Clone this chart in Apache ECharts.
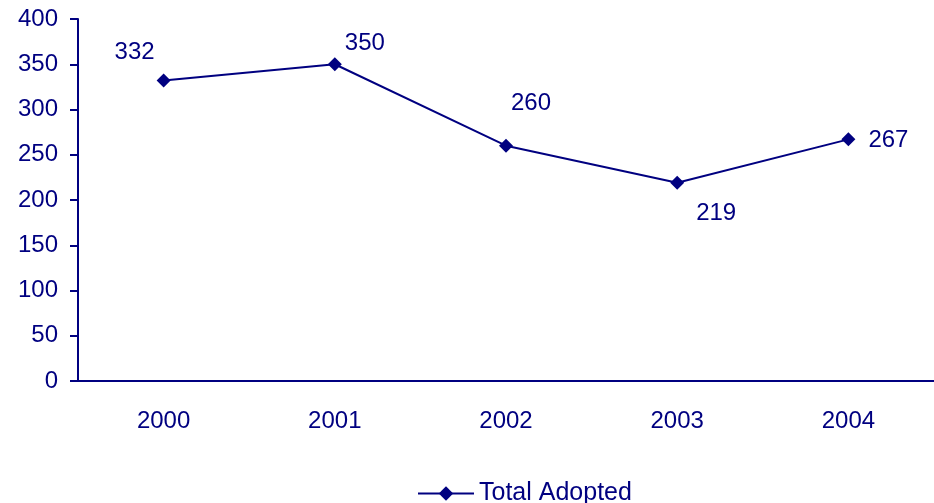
<!DOCTYPE html>
<html><head><meta charset="utf-8">
<script src="https://cdn.jsdelivr.net/npm/echarts@6/dist/echarts.min.js"></script>
<style>html,body{margin:0;padding:0;background:#fff}#c{width:934px;height:503px}</style>
</head><body><div id="c"></div>
<script>
const categories = ['2000','2001','2002','2003','2004'];
const totalAdopted = [332, 350, 260, 219, 267];
const yTicks = [0, 50, 100, 150, 200, 250, 300, 350, 400];
const labelOffsets = [[-29,-28],[30,-21],[25,-42],[39,31],[40,1]];
const navy = '#000080';
const font = '"Liberation Sans", Arial, sans-serif';
const chart = echarts.init(document.getElementById('c'), null, {renderer:'canvas'});
chart.setOption({
  animation:false,
  backgroundColor:'#fff',
  grid:{left:78, right:-1, top:19, bottom:122, containLabel:false},
  legend:{
    top:481, left:417, itemWidth:56, itemHeight:18, itemGap:4, padding:0,
    textStyle:{color:navy, fontSize:25, fontFamily:font, padding:[0,0,0,0]},
    data:['Total Adopted']
  },
  xAxis:{
    type:'category', data:categories, boundaryGap:true,
    axisLine:{lineStyle:{color:navy, width:2}},
    axisTick:{length:8, lineStyle:{color:navy, width:2}, alignWithLabel:false},
    axisLabel:{color:navy, fontSize:24, fontFamily:font, margin:28}
  },
  yAxis:{
    type:'value', min:yTicks[0], max:yTicks[yTicks.length-1], interval:50,
    axisLine:{show:true, lineStyle:{color:navy, width:2}},
    axisTick:{show:true, length:8, lineStyle:{color:navy, width:2}},
    axisLabel:{color:navy, fontSize:24, fontFamily:font, margin:20},
    splitLine:{show:false}
  },
  series:[{
    name:'Total Adopted', type:'line',
    symbol:'diamond', symbolSize:14,
    lineStyle:{color:navy, width:2},
    itemStyle:{color:navy},
    data: totalAdopted.map((v,i)=>({value:v, label:{show:true, position:'inside', offset:labelOffsets[i], color:navy, fontSize:24, fontFamily:font}}))
  }]
});
</script></body></html>
